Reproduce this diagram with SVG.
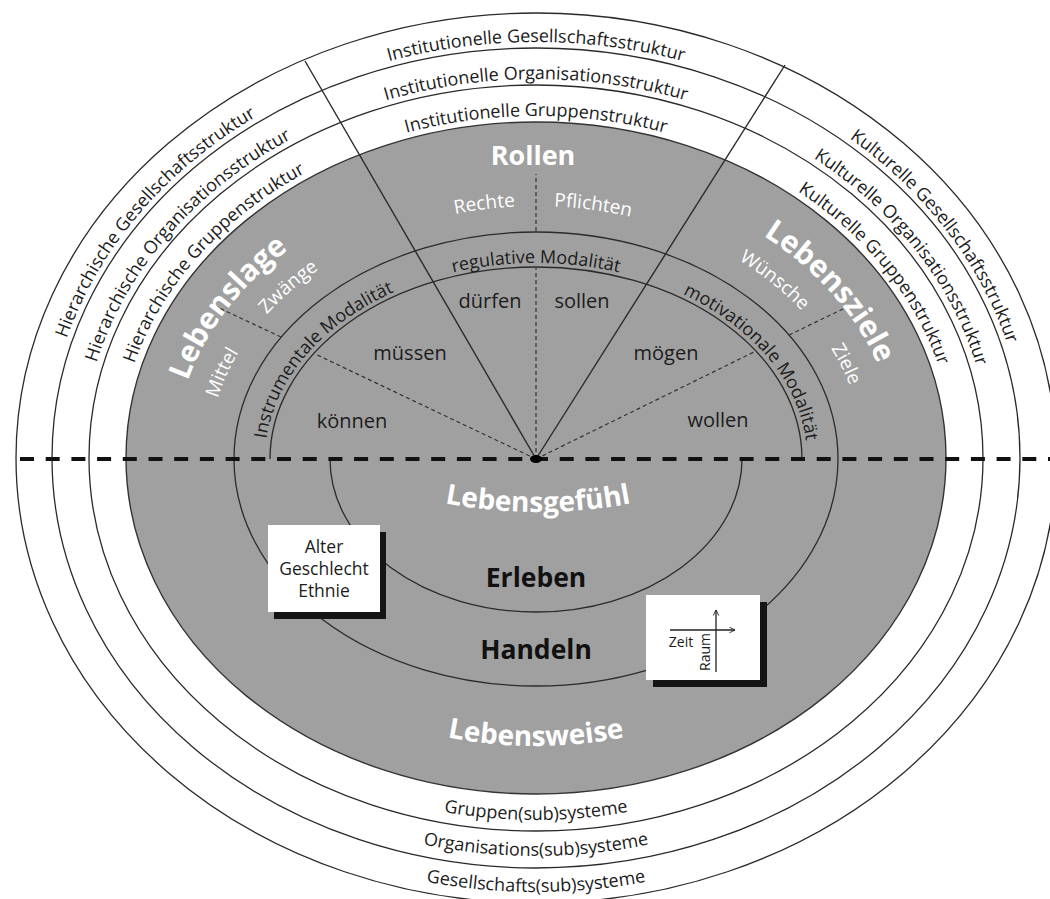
<svg xmlns="http://www.w3.org/2000/svg" width="1050" height="899" viewBox="0 0 1050 899">
<style>
text{font-family:"Open Sans","Noto Sans","DejaVu Sans",sans-serif;fill:#1c1c1c}
.ln{fill:none;stroke:#2a2a2a;stroke-width:1.3}
.ray{stroke:#2a2a2a;stroke-width:1.4}
.dsh{fill:none;stroke:#333;stroke-width:1.2;stroke-dasharray:4 3}
.ring{font-size:18px}
.band{font-size:18px}
.verb{font-size:20px}
.wb{fill:#fff;font-weight:700}
.ws{fill:#fff;font-size:19px}
.big{font-size:30px}
.blk{font-weight:700;font-size:26.5px;fill:#111}
.box{fill:#fff}
.shd{fill:#151515}
.bx{font-size:17.5px}
.sm{font-size:14px}
</style>
<defs>
<path id="b1" d="M 46 458 A 490 416 0 0 1 1026 458"/>
<path id="b2" d="M 82 458 A 454 379 0 0 1 990 458"/>
<path id="b3" d="M 118 458 A 418 342 0 0 1 954 458"/>
<path id="g1" d="M 99 458 A 437 362 0 0 0 973 458"/>
<path id="g2" d="M 63 458 A 473 398 0 0 0 1009 458"/>
<path id="g3" d="M 27 458 A 509 434 0 0 0 1045 458"/>
<path id="mb" d="M 265 459 A 271 196 0 0 1 807 459"/>
<path id="sm" d="M 208 459 A 328 253 0 0 1 864 459"/>
<path id="lg" d="M 174 459 A 362 287 0 0 1 898 459"/>
<path id="lw" d="M 174 459 A 362 287 0 0 0 898 459"/>
<path id="lf" d="M 418 497.4 A 500 500 0 0 0 658 497.4"/>
<marker id="ah" viewBox="0 0 10 10" refX="9" refY="5" markerWidth="7" markerHeight="7" orient="auto" markerUnits="userSpaceOnUse">
<path d="M1,1 L9,5 L1,9" fill="none" stroke="#222" stroke-width="1.3"/>
</marker>
</defs>
<rect width="1050" height="899" fill="#fff"/>

<g id="outer-rings">
<ellipse cx="536" cy="458" rx="520" ry="445" fill="#fff" class="ln"/>
<ellipse cx="536" cy="458" rx="484" ry="410" class="ln"/>
<ellipse cx="536" cy="458" rx="447" ry="373" class="ln"/>
</g>
<g id="core">
<ellipse cx="536" cy="458" rx="410" ry="336" fill="#a0a0a0" stroke="#333" stroke-width="1.4"/>
</g>
<g id="modal-band">
<ellipse cx="536" cy="459" rx="302" ry="227" class="ln"/>
<path d="M 270 459 A 266 192 0 0 1 802 459" class="ln"/>
</g>
<g id="erleben-arc">
<path d="M 330 459 A 206 153 0 0 0 742 459" class="ln"/>
</g>

<g id="connectors">
<line x1="536" y1="459" x2="305" y2="61" class="ray"/>
<line x1="536" y1="459" x2="785" y2="65" class="ray"/>
<line x1="536" y1="459" x2="536" y2="268" class="dsh"/>
<line x1="536" y1="231" x2="536" y2="174" class="dsh"/>
<line x1="536" y1="459" x2="314.5" y2="353.7" class="dsh"/>
<line x1="281" y1="337" x2="217" y2="307" class="dsh"/>
<line x1="536" y1="459" x2="756" y2="351" class="dsh"/>
<line x1="789" y1="335" x2="845" y2="308" class="dsh"/>
<line x1="20" y1="459" x2="1050" y2="459" stroke="#111" stroke-width="4" stroke-dasharray="14 11.7"/>
<ellipse cx="536" cy="459" rx="6" ry="4" fill="#000"/>
</g>

<g id="box-alter">
<rect x="274" y="532" width="112" height="87" class="shd"/>
<rect x="268" y="525" width="112" height="87" class="box"/>
<text class="bx" x="324" y="553" text-anchor="middle">Alter</text>
<text class="bx" x="324" y="575" text-anchor="middle">Geschlecht</text>
<text class="bx" x="324" y="597" text-anchor="middle">Ethnie</text>
</g>
<g id="box-zeit-raum">
<rect x="653" y="602" width="114" height="85" class="shd"/>
<rect x="646" y="595" width="114" height="85" class="box"/>
<line x1="670" y1="630" x2="735" y2="630" stroke="#222" stroke-width="1.3" marker-end="url(#ah)"/>
<line x1="716" y1="672" x2="716" y2="610" stroke="#222" stroke-width="1.3" marker-end="url(#ah)"/>
<text class="sm" x="681" y="647" text-anchor="middle">Zeit</text>
<text class="sm" transform="translate(710,652) rotate(-90)" text-anchor="middle">Raum</text>
</g>

<g id="ring-labels">
<text class="ring" text-anchor="middle"><textPath href="#b1" startOffset="19%">Hierarchische Gesellschaftsstruktur</textPath></text>
<text class="ring" text-anchor="middle"><textPath href="#b2" startOffset="19%">Hierarchische Organisationsstruktur</textPath></text>
<text class="ring" text-anchor="middle"><textPath href="#b3" startOffset="19%">Hierarchische Gruppenstruktur</textPath></text>
<text class="ring" text-anchor="middle"><textPath href="#b1" startOffset="50%">Institutionelle Gesellschaftsstruktur</textPath></text>
<text class="ring" text-anchor="middle"><textPath href="#b2" startOffset="50%">Institutionelle Organisationsstruktur</textPath></text>
<text class="ring" text-anchor="middle"><textPath href="#b3" startOffset="50%">Institutionelle Gruppenstruktur</textPath></text>
<text class="ring" text-anchor="middle"><textPath href="#b1" startOffset="82.6%">Kulturelle Gesellschaftsstruktur</textPath></text>
<text class="ring" text-anchor="middle"><textPath href="#b2" startOffset="82.6%">Kulturelle Organisationsstruktur</textPath></text>
<text class="ring" text-anchor="middle"><textPath href="#b3" startOffset="82.6%">Kulturelle Gruppenstruktur</textPath></text>
<text class="ring" text-anchor="middle"><textPath href="#g1" startOffset="50%">Gruppen(sub)systeme</textPath></text>
<text class="ring" text-anchor="middle"><textPath href="#g2" startOffset="50%">Organisations(sub)systeme</textPath></text>
<text class="ring" text-anchor="middle"><textPath href="#g3" startOffset="50%">Gesellschafts(sub)systeme</textPath></text>
</g>

<g id="modal-labels">
<text class="band" text-anchor="middle"><textPath href="#mb" startOffset="16.5%">Instrumentale Modalität</textPath></text>
<text class="band" text-anchor="middle"><textPath href="#mb" startOffset="50%">regulative Modalität</textPath></text>
<text class="band" text-anchor="middle"><textPath href="#mb" startOffset="84%">motivationale Modalität</textPath></text>
</g>

<g id="verbs">
<text class="verb" x="490" y="308" text-anchor="middle">dürfen</text>
<text class="verb" x="582" y="308" text-anchor="middle">sollen</text>
<text class="verb" x="410" y="360" text-anchor="middle">müssen</text>
<text class="verb" x="666" y="360" text-anchor="middle">mögen</text>
<text class="verb" x="352" y="428" text-anchor="middle">können</text>
<text class="verb" x="718" y="427" text-anchor="middle">wollen</text>
</g>

<g id="life-labels">
<text class="wb" x="533" y="165" font-size="27" text-anchor="middle">Rollen</text>
<text class="ws" text-anchor="middle"><textPath href="#sm" startOffset="44.4%">Rechte</textPath></text>
<text class="ws" text-anchor="middle"><textPath href="#sm" startOffset="56.2%">Pflichten</textPath></text>
<text class="ws" text-anchor="middle"><textPath href="#sm" startOffset="9.5%">Mittel</textPath></text>
<text class="ws" text-anchor="middle"><textPath href="#sm" startOffset="21.2%">Zwänge</textPath></text>
<text class="ws" text-anchor="middle"><textPath href="#sm" startOffset="77.6%">Wünsche</textPath></text>
<text class="ws" text-anchor="middle"><textPath href="#sm" startOffset="89.5%">Ziele</textPath></text>
<text class="wb big" text-anchor="middle"><textPath href="#lg" startOffset="16%">Lebenslage</textPath></text>
<text class="wb big" text-anchor="middle"><textPath href="#lg" startOffset="81.9%">Lebensziele</textPath></text>
<text class="wb" font-size="28" text-anchor="middle"><textPath href="#lf" startOffset="50%">Lebensgefühl</textPath></text>
<text class="wb" font-size="28" text-anchor="middle"><textPath href="#lw" startOffset="50%">Lebensweise</textPath></text>
<text class="blk" x="536" y="587" text-anchor="middle">Erleben</text>
<text class="blk" x="536" y="659" text-anchor="middle">Handeln</text>
</g>
</svg>
